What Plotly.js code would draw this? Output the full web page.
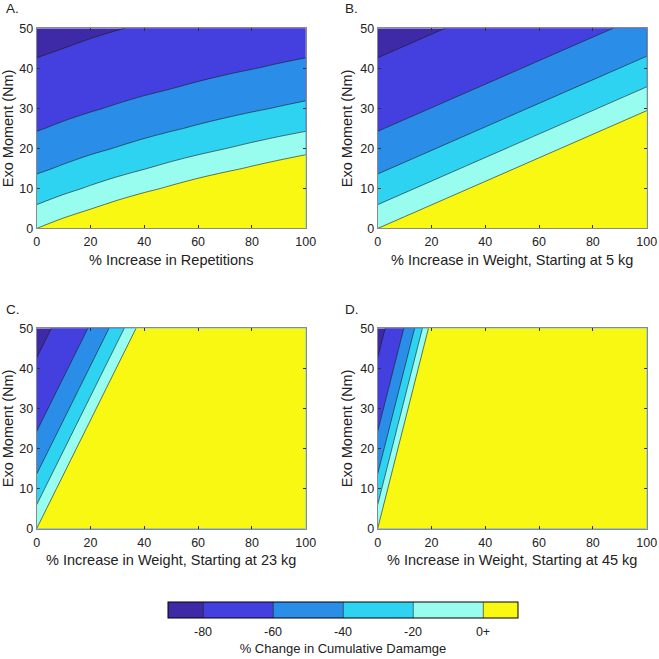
<!DOCTYPE html>
<html><head><meta charset="utf-8">
<script src="https://cdn.plot.ly/plotly-3.0.1.min.js"></script>
<style>html,body{margin:0;padding:0;background:#fff}#chart{width:659px;height:659px}</style>
</head><body><div id="chart"></div>
<script>
// Exo moment (y) grid, Nm
const exoMoment = [0, 5, 10, 15, 20, 25, 30, 35, 40, 45, 50];

// Panel A: % increase in repetitions
const repIncrease = [0, 10, 20, 30, 40, 50, 60, 70, 80, 90, 100];
const zRepetitions = [
  [0, 10, 20, 30, 40, 50, 60, 70, 80, 90, 100],
  [-17.3, -9.0, -0.7, 7.6, 15.8, 24.1, 32.4, 40.7, 48.9, 57.2, 65.5],
  [-31.5, -24.7, -17.8, -11.0, -4.1, 2.7, 9.6, 16.4, 23.2, 30.1, 36.9],
  [-43.3, -37.7, -32.0, -26.3, -20.7, -15.0, -9.3, -3.7, 2.0, 7.6, 13.3],
  [-53.1, -48.4, -43.7, -39.1, -34.4, -29.7, -25.0, -20.3, -15.6, -10.9, -6.2],
  [-61.2, -57.3, -53.4, -49.6, -45.7, -41.8, -37.9, -34.1, -30.2, -26.3, -22.4],
  [-67.9, -64.7, -61.5, -58.3, -55.1, -51.8, -48.6, -45.4, -42.2, -39.0, -35.8],
  [-73.4, -70.8, -68.1, -65.5, -62.8, -60.2, -57.5, -54.8, -52.2, -49.5, -46.9],
  [-78.0, -75.8, -73.6, -71.4, -69.2, -67.0, -64.8, -62.6, -60.4, -58.2, -56.0],
  [-81.8, -80.0, -78.2, -76.4, -74.5, -72.7, -70.9, -69.1, -67.3, -65.4, -63.6],
  [-85.0, -83.4, -81.9, -80.4, -78.9, -77.4, -75.9, -74.4, -72.9, -71.4, -69.9]
];

// Panel B: % increase in weight, starting at 5 kg
const weightInc5 = [0, 17, 34, 51, 68, 85, 102];
const zWeight5 = [
  [0, 20.9, 46.0, 76.5, 113.3, 157.8, 211.5],
  [-17.3, 0, 20.9, 46.0, 76.5, 113.3, 157.8],
  [-31.5, -17.3, 0, 20.9, 46.0, 76.5, 113.3],
  [-43.3, -31.5, -17.3, 0, 20.9, 46.0, 76.5],
  [-53.1, -43.3, -31.5, -17.3, 0, 20.9, 46.0],
  [-61.2, -53.1, -43.3, -31.5, -17.3, 0, 20.9],
  [-67.9, -61.2, -53.1, -43.3, -31.5, -17.3, 0],
  [-73.4, -67.9, -61.2, -53.1, -43.3, -31.5, -17.3],
  [-78.0, -73.4, -67.9, -61.2, -53.1, -43.3, -31.5],
  [-81.8, -78.0, -73.4, -67.9, -61.2, -53.1, -43.3],
  [-85.0, -81.8, -78.0, -73.4, -67.9, -61.2, -53.1]
];

// Panel C: % increase in weight, starting at 23 kg
const weightInc23 = [0, 3.69, 7.39, 11.08, 14.77, 18.47, 22.16, 25.85, 29.55, 33.24, 36.93, 40.63, 100];
const zWeight23 = [
  [0, 20.9, 46.0, 76.5, 113.3, 157.8, 211.5, 276.5, 355.0, 449.9, 564.5, 703.0, 16770],
  [-17.3, 0, 20.9, 46.0, 76.5, 113.3, 157.8, 211.5, 276.5, 355.0, 449.9, 564.5, 13860],
  [-31.5, -17.3, 0, 20.9, 46.0, 76.5, 113.3, 157.8, 211.5, 276.5, 355.0, 449.9, 11450],
  [-43.3, -31.5, -17.3, 0, 20.9, 46.0, 76.5, 113.3, 157.8, 211.5, 276.5, 355.0, 9460],
  [-53.1, -43.3, -31.5, -17.3, 0, 20.9, 46.0, 76.5, 113.3, 157.8, 211.5, 276.5, 7810],
  [-61.2, -53.1, -43.3, -31.5, -17.3, 0, 20.9, 46.0, 76.5, 113.3, 157.8, 211.5, 6440],
  [-67.9, -61.2, -53.1, -43.3, -31.5, -17.3, 0, 20.9, 46.0, 76.5, 113.3, 157.8, 5320],
  [-73.4, -67.9, -61.2, -53.1, -43.3, -31.5, -17.3, 0, 20.9, 46.0, 76.5, 113.3, 4380],
  [-78.0, -73.4, -67.9, -61.2, -53.1, -43.3, -31.5, -17.3, 0, 20.9, 46.0, 76.5, 3610],
  [-81.8, -78.0, -73.4, -67.9, -61.2, -53.1, -43.3, -31.5, -17.3, 0, 20.9, 46.0, 2970],
  [-85.0, -81.8, -78.0, -73.4, -67.9, -61.2, -53.1, -43.3, -31.5, -17.3, 0, 20.9, 2440]
];

// Panel D: % increase in weight, starting at 45 kg
const weightInc45 = [0, 1.89, 3.78, 5.66, 7.55, 9.44, 11.33, 13.21, 15.10, 16.99, 18.88, 20.77, 100];
const zWeight45 = [
  [0, 20.9, 46.0, 76.5, 113.3, 157.8, 211.5, 276.5, 355.0, 449.9, 564.5, 703.0, 2276500],
  [-17.3, 0, 20.9, 46.0, 76.5, 113.3, 157.8, 211.5, 276.5, 355.0, 449.9, 564.5, 1883700],
  [-31.5, -17.3, 0, 20.9, 46.0, 76.5, 113.3, 157.8, 211.5, 276.5, 355.0, 449.9, 1558700],
  [-43.3, -31.5, -17.3, 0, 20.9, 46.0, 76.5, 113.3, 157.8, 211.5, 276.5, 355.0, 1289800],
  [-53.1, -43.3, -31.5, -17.3, 0, 20.9, 46.0, 76.5, 113.3, 157.8, 211.5, 276.5, 1067200],
  [-61.2, -53.1, -43.3, -31.5, -17.3, 0, 20.9, 46.0, 76.5, 113.3, 157.8, 211.5, 883100],
  [-67.9, -61.2, -53.1, -43.3, -31.5, -17.3, 0, 20.9, 46.0, 76.5, 113.3, 157.8, 730700],
  [-73.4, -67.9, -61.2, -53.1, -43.3, -31.5, -17.3, 0, 20.9, 46.0, 76.5, 113.3, 604600],
  [-78.0, -73.4, -67.9, -61.2, -53.1, -43.3, -31.5, -17.3, 0, 20.9, 46.0, 76.5, 500300],
  [-81.8, -78.0, -73.4, -67.9, -61.2, -53.1, -43.3, -31.5, -17.3, 0, 20.9, 46.0, 414000],
  [-85.0, -81.8, -78.0, -73.4, -67.9, -61.2, -53.1, -43.3, -31.5, -17.3, 0, 20.9, 342500]
];

const panelLabels = ['A.', 'B.', 'C.', 'D.'];
const xTitles = ['% Increase in Repetitions', '% Increase in Weight, Starting at 5 kg',
                 '% Increase in Weight, Starting at 23 kg', '% Increase in Weight, Starting at 45 kg'];
const yTitle = 'Exo Moment (Nm)';
const levelTicks = [-80, -60, -40, -20, 0];
const levelLabels = ['-80', '-60', '-40', '-20', '0+'];
const colorbarTitle = '% Change in Cumulative Damamge';
const bandColors = ['#3E2AA6', '#4440DF', '#2A8EE8', '#2ED3F1', '#98FCEF', '#F8F812'];

const FONT = 'Liberation Sans, Arial, sans-serif';
const TXT = '#222222';
const colorscale = bandColors.map((c, i) => [i / (bandColors.length - 1), c]);

const xs = [repIncrease, weightInc5, weightInc23, weightInc45];
const zs = [zRepetitions, zWeight5, zWeight23, zWeight45];
const axSuffix = ['', '2', '3', '4'];

const traces = zs.map((z, k) => ({
  type: 'contour',
  x: xs[k], y: exoMoment, z: z,
  xaxis: 'x' + axSuffix[k], yaxis: 'y' + axSuffix[k],
  autocontour: false,
  contours: {start: levelTicks[0], end: levelTicks[levelTicks.length - 1], size: 20, coloring: 'fill', showlines: true},
  line: {color: '#1a1a1a', width: 0.6, smoothing: 1},
  colorscale: colorscale,
  showscale: k === 0,
  hoverinfo: 'skip',
  colorbar: {
    orientation: 'h', x: 0.5205, xanchor: 'center', y: 0.0869, yanchor: 'top',
    len: 350, lenmode: 'pixels', thickness: 16, thicknessmode: 'pixels',
    xpad: 0, ypad: 0, outlinewidth: 1, outlinecolor: '#000',
    ticks: 'outside', ticklen: 3, tickcolor: 'rgba(0,0,0,0)',
    tickmode: 'array', tickvals: levelTicks, ticktext: levelLabels,
    tickfont: {family: FONT, size: 12.5, color: TXT},
    title: {text: colorbarTitle, side: 'bottom', font: {family: FONT, size: 13, color: TXT}}
  }
}));

const xDomL = [0.0557, 0.4639], xDomR = [0.5731, 0.9813];
const yDomT = [0.6533, 0.9571], yDomB = [0.1980, 0.5018];

function xa(dom, anchor, k) {
  return {domain: dom, anchor: anchor, range: [0, 100], dtick: 20, tick0: 0,
    ticks: 'inside', ticklen: 3, tickcolor: '#333', mirror: 'ticks', showline: true,
    linecolor: '#8a8a8a', linewidth: 1, showgrid: false, zeroline: false,
    ticklabelstandoff: 2,
    tickfont: {family: FONT, size: 12.5, color: TXT},
    title: {text: xTitles[k], font: {family: FONT, size: 14.5, color: TXT}, standoff: 6}};
}
function ya(dom, anchor) {
  return {domain: dom, anchor: anchor, range: [0, 50], dtick: 10, tick0: 0,
    ticks: 'inside', ticklen: 3, tickcolor: '#333', mirror: 'ticks', showline: true,
    linecolor: '#8a8a8a', linewidth: 1, showgrid: false, zeroline: false,
    tickfont: {family: FONT, size: 12.5, color: TXT},
    title: {text: yTitle, font: {family: FONT, size: 14.5, color: TXT}, standoff: 4}};
}

const labelPos = [[0.006, 0.9871], [0.5205, 0.9871], [0.006, 0.5311], [0.5205, 0.5311]];

const layout = {
  width: 659, height: 659,
  margin: {l: 0, r: 0, t: 0, b: 0},
  paper_bgcolor: '#fff', plot_bgcolor: '#fff',
  showlegend: false,
  xaxis: xa(xDomL, 'y', 0), yaxis: ya(yDomT, 'x'),
  xaxis2: xa(xDomR, 'y2', 1), yaxis2: ya(yDomT, 'x2'),
  xaxis3: xa(xDomL, 'y3', 2), yaxis3: ya(yDomB, 'x3'),
  xaxis4: xa(xDomR, 'y4', 3), yaxis4: ya(yDomB, 'x4'),
  annotations: panelLabels.map((t, i) => ({
    text: t, xref: 'paper', yref: 'paper', x: labelPos[i][0], y: labelPos[i][1],
    xanchor: 'left', yanchor: 'middle', showarrow: false,
    font: {family: FONT, size: 13.5, color: TXT}
  }))
};

Plotly.newPlot('chart', traces, layout, {displayModeBar: false, staticPlot: true});
</script></body></html>
